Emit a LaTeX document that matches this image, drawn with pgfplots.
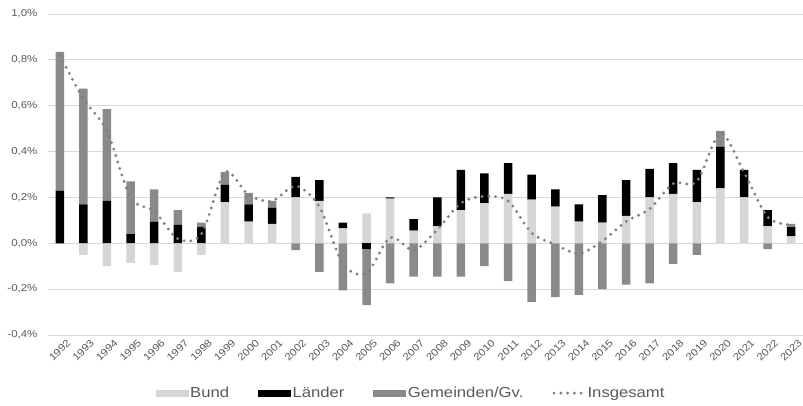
\documentclass[border=0pt]{standalone}
\usepackage{fontspec}
\setmainfont{Liberation Sans}[FakeStretch=1.15]
\usepackage{pgfplots}
\usepackage{pgfplotstable}
\pgfplotsset{compat=1.18}

\definecolor{bund}{RGB}{214,214,214}
\definecolor{laender}{RGB}{0,0,0}
\definecolor{gemeinden}{RGB}{138,138,138}
\definecolor{gesamt}{RGB}{128,128,128}
\definecolor{gitter}{RGB}{217,217,217}
\definecolor{txt}{RGB}{89,89,89}

% Anteile in % (Bund, Laender, Gemeinden/Gv.) und Insgesamt
\pgfplotstableread{
jahr bund laender gemeinden gesamt
1992  0.000  0.230  0.605  0.82
1993 -0.050  0.170  0.505  0.63
1994 -0.100  0.185  0.400  0.49
1995 -0.085  0.040  0.230  0.20
1996 -0.095  0.095  0.140  0.14
1997 -0.125  0.080  0.065  0.02
1998 -0.050  0.070  0.020  0.04
1999  0.180  0.075  0.055  0.31
2000  0.095  0.075  0.050  0.21
2001  0.085  0.070  0.030  0.185
2002  0.200  0.090 -0.030  0.25
2003  0.185  0.090 -0.125  0.16
2004  0.065  0.025 -0.205 -0.09
2005  0.130 -0.025 -0.245 -0.13
2006  0.195  0.005 -0.175  0.025
2007  0.055  0.050 -0.145 -0.03
2008  0.075  0.125 -0.145  0.06
2009  0.145  0.175 -0.145  0.175
2010  0.175  0.130 -0.100  0.205
2011  0.215  0.135 -0.165  0.185
2012  0.190  0.110 -0.255  0.045
2013  0.160  0.075 -0.235 -0.005
2014  0.095  0.075 -0.225 -0.045
2015  0.090  0.120 -0.200  0.01
2016  0.120  0.155 -0.180  0.095
2017  0.200  0.125 -0.175  0.15
2018  0.215  0.135 -0.090  0.26
2019  0.180  0.140 -0.050  0.27
2020  0.240  0.180  0.070  0.48
2021  0.200  0.120  0.000  0.31
2022  0.075  0.070 -0.025  0.115
2023  0.030  0.040  0.015  0.08
}\anteile

\tikzset{punkte/.style={gesamt, line width=3.2pt, dash pattern=on 0pt off 6.8pt, line cap=round}}

\pgfplotsset{
  basis/.style={
    scale only axis, width=755pt, height=321pt,
    xmin=1991.5, xmax=2023.5, ymin=-0.4, ymax=1.0,
    axis line style={draw=none}, major tick length=0pt,
    clip=false,
  },
  balken/.style={ybar stacked, bar width=8.5pt},
}

\begin{document}
\begin{tikzpicture}
% positive Anteile
\begin{axis}[basis, balken, name=ax,
  ymajorgrids, major grid style={gitter, line width=0.9pt},
  ytick={-0.4,-0.2,0,0.2,0.4,0.6,0.8,1.0},
  yticklabels={{-0,4\%},{-0,2\%},{0,0\%},{0,2\%},{0,4\%},{0,6\%},{0,8\%},{1,0\%}},
  xtick={1992,...,2023},
  xticklabels={1992,1993,1994,1995,1996,1997,1998,1999,2000,2001,2002,2003,2004,2005,2006,2007,
    2008,2009,2010,2011,2012,2013,2014,2015,2016,2017,2018,2019,2020,2021,2022,2023},
  tick label style={font=\fontsize{10}{12}\selectfont, text=txt},
  yticklabel style={anchor=east, xshift=-7pt},
  xticklabel style={rotate=45, anchor=north east, inner sep=1pt, xshift=3pt, yshift=-6pt},
]
\addplot[fill=bund, draw=none] table[x=jahr, y expr={max(\thisrow{bund},0)}] {\anteile};
\addplot[fill=laender, draw=none] table[x=jahr, y expr={max(\thisrow{laender},0)}] {\anteile};
\addplot[fill=gemeinden, draw=none] table[x=jahr, y expr={max(\thisrow{gemeinden},0)}] {\anteile};
\end{axis}
% negative Anteile
\begin{axis}[basis, balken, hide axis]
\addplot[fill=bund, draw=none] table[x=jahr, y expr={min(\thisrow{bund},0)}] {\anteile};
\addplot[fill=laender, draw=none] table[x=jahr, y expr={min(\thisrow{laender},0)}] {\anteile};
\addplot[fill=gemeinden, draw=none] table[x=jahr, y expr={min(\thisrow{gemeinden},0)}] {\anteile};
\end{axis}
% Insgesamt + Legende
\begin{axis}[basis, hide axis,
  legend columns=4,
  legend style={at={(0.481,-0.181)}, anchor=center, draw=none, fill=none,
    font=\fontsize{14.5}{16}\selectfont, text=txt,
    /tikz/every even column/.append style={column sep=27pt}},
]
\addlegendimage{legend image code/.code={\fill[bund] (0pt,-3.2pt) rectangle (32pt,3.2pt);}}
\addlegendentry{Bund}
\addlegendimage{legend image code/.code={\fill[laender] (0pt,-3.2pt) rectangle (32pt,3.2pt);}}
\addlegendentry{Länder}
\addlegendimage{legend image code/.code={\fill[gemeinden] (0pt,-3.2pt) rectangle (32pt,3.2pt);}}
\addlegendentry{Gemeinden/Gv.}
\addplot[punkte, smooth,
  legend image code/.code={\draw[punkte] (2pt,0pt) -- (32pt,0pt);}]
  table[x=jahr, y=gesamt] {\anteile};
\addlegendentry{Insgesamt}
\end{axis}
\pgfresetboundingbox
\path[use as bounding box] ([shift={(-48pt,-70pt)}]ax.south west) rectangle ([shift={(0pt,14pt)}]ax.north east);
\end{tikzpicture}
\end{document}
